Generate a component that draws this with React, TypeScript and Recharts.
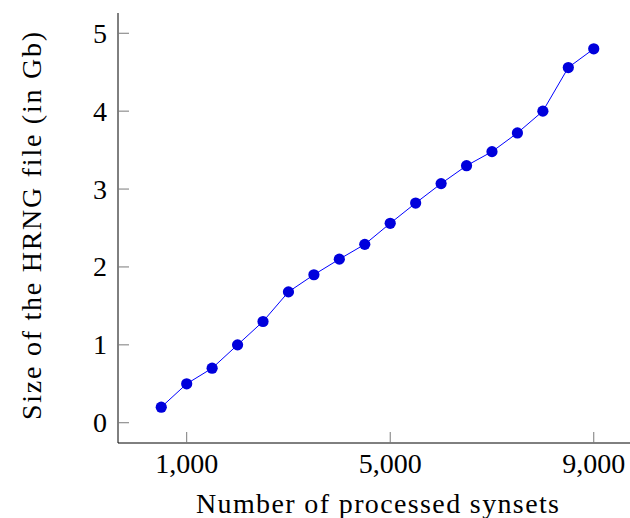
import React from 'react';
import { LineChart, Line, XAxis, YAxis } from 'recharts';

const synsets = [500, 1000, 1500, 2000, 2500, 3000, 3500, 4000, 4500, 5000, 5500, 6000, 6500, 7000, 7500, 8000, 8500, 9000];
const sizeGb = [0.2, 0.5, 0.7, 1.0, 1.3, 1.68, 1.9, 2.1, 2.29, 2.56, 2.82, 3.07, 3.3, 3.48, 3.72, 4.0, 4.56, 4.8];
const xTicks = [1000, 5000, 9000];
const yTicks = [0, 1, 2, 3, 4, 5];
const xLabel = 'Number of processed synsets';
const yLabel = 'Size of the HRNG file (in Gb)';

const data = synsets.map((s, i) => ({ synsets: s, size: sizeGb[i] }));

const FONT = "'Liberation Serif', 'DejaVu Serif', serif";
const FS = 28;
const TICK_COLOR = '#7a7a7a';
const TICK_LEN = 11;

const fmt = (v: number) => v.toLocaleString('en-US');

const BottomTick = (props: any) => {
  const { x, y, payload } = props;
  return (
    <g>
      <line x1={x} x2={x} y1={y} y2={y - TICK_LEN} stroke={TICK_COLOR} strokeWidth={1} />
      <text x={x} y={y + 30} textAnchor="middle" fontFamily={FONT} fontSize={FS} fill="#000">
        {fmt(payload.value)}
      </text>
    </g>
  );
};

const TopTick = (props: any) => {
  const { x, y } = props;
  return <line x1={x} x2={x} y1={y} y2={y + TICK_LEN} stroke={TICK_COLOR} strokeWidth={1} />;
};

const LeftTick = (props: any) => {
  const { x, y, payload } = props;
  return (
    <g>
      <line x1={x} x2={x + TICK_LEN} y1={y} y2={y} stroke={TICK_COLOR} strokeWidth={1} />
      <text x={x - 11} y={y + 9.5} textAnchor="end" fontFamily={FONT} fontSize={FS} fill="#000">
        {payload.value}
      </text>
    </g>
  );
};

const RightTick = (props: any) => {
  const { x, y } = props;
  return <line x1={x} x2={x - TICK_LEN} y1={y} y2={y} stroke={TICK_COLOR} strokeWidth={1} />;
};

const XLabel = (props: any) => {
  const vb = props.viewBox || {};
  const cx = vb.x + vb.width / 2;
  return (
    <text x={cx} y={vb.y + 70} textAnchor="middle" fontFamily={FONT} fontSize={FS} fill="#000"
      textLength={363} lengthAdjust="spacing">
      {xLabel}
    </text>
  );
};

const YLabel = (props: any) => {
  const vb = props.viewBox || {};
  const cy = vb.y + vb.height / 2 - 2;
  const cx = 41;
  return (
    <text x={cx} y={cy} textAnchor="middle" fontFamily={FONT} fontSize={FS} fill="#000"
      transform={`rotate(-90, ${cx}, ${cy})`} textLength={388} lengthAdjust="spacing">
      {yLabel}
    </text>
  );
};

export default function App() {
  return (
    <div style={{ position: 'absolute', left: 0, top: 0, width: 630, height: 518, overflow: 'hidden', background: '#fff' }}>
      <LineChart width={660} height={518} data={data} margin={{ top: 13, right: 23, bottom: 0, left: 0 }}>
        <XAxis
          dataKey="synsets"
          type="number"
          domain={[-350, 9850]}
          ticks={xTicks}
          height={75}
          tickSize={0}
          tickMargin={0}
          tickLine={false}
          tick={BottomTick}
          axisLine={{ stroke: '#000', strokeWidth: 1 }}
          label={XLabel}
          interval={0}
        />
        <XAxis
          xAxisId="top"
          orientation="top"
          dataKey="synsets"
          type="number"
          domain={[-350, 9850]}
          ticks={xTicks}
          height={0}
          tickSize={0}
          tickMargin={0}
          tickLine={false}
          tick={TopTick}
          axisLine={{ stroke: '#000', strokeWidth: 1 }}
          interval={0}
        />
        <YAxis
          type="number"
          domain={[-0.26, 5.26]}
          ticks={yTicks}
          width={118}
          tickSize={0}
          tickMargin={0}
          tickLine={false}
          tick={LeftTick}
          axisLine={{ stroke: '#000', strokeWidth: 1 }}
          label={YLabel}
          interval={0}
        />
        <YAxis
          yAxisId="right"
          orientation="right"
          type="number"
          domain={[-0.26, 5.26]}
          ticks={yTicks}
          width={0}
          tickSize={0}
          tickMargin={0}
          tickLine={false}
          tick={RightTick}
          axisLine={{ stroke: '#000', strokeWidth: 1 }}
          interval={0}
        />
        <Line
          type="linear"
          dataKey="size"
          stroke="#0000ff"
          strokeWidth={1}
          dot={{ r: 5.6, fill: '#0000dc', stroke: '#0000dc', strokeWidth: 0 }}
          isAnimationActive={false}
        />
      </LineChart>
    </div>
  );
}
